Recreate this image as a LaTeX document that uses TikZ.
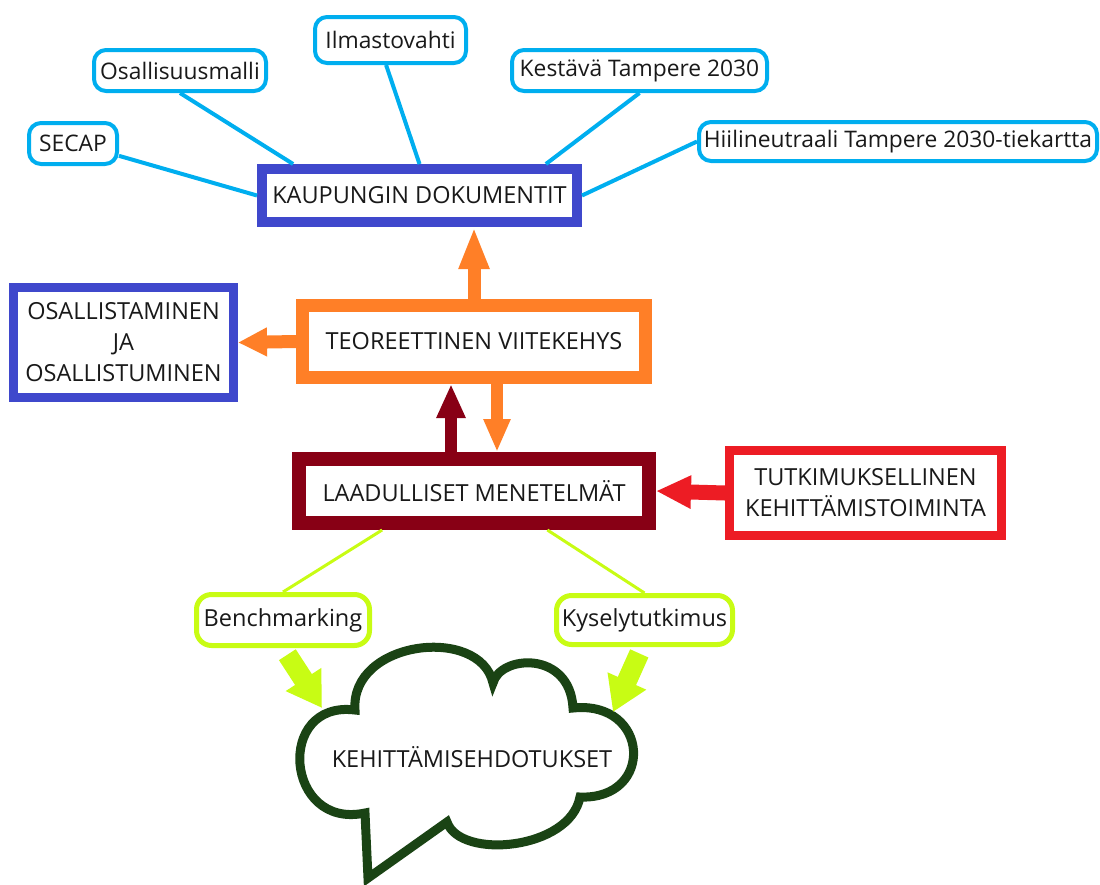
\documentclass[tikz,border=0pt]{standalone}
\usepackage{fontspec}
\setmainfont{Open Sans}
\usetikzlibrary{arrows.meta}

\begin{document}
\begin{tikzpicture}[x=1pt,y=-1pt]

  % Define the colours of the diagram
  \definecolor{docblue}{RGB}{0,174,239}
  \definecolor{boxblue}{RGB}{63,72,204}
  \definecolor{theoryorange}{RGB}{255,127,39}
  \definecolor{methodred}{RGB}{136,0,21}
  \definecolor{devred}{RGB}{237,28,36}
  \definecolor{toollime}{RGB}{200,252,20}
  \definecolor{cloudgreen}{RGB}{26,67,20}

  % Styles
  \tikzset{every node/.style={font=\fontsize{23.5}{31}\selectfont, align=center, inner sep=0pt, text=black!90}}
  \tikzset{
    docbox/.style={draw=docblue, line width=4pt, rounded corners=12pt, fill=white, font=\fontsize{22.8}{31}\selectfont},
    toolbox/.style={draw=toollime, line width=5pt, rounded corners=15pt, fill=white},
    mainbox/.style={draw=#1, fill=white},
    docline/.style={draw=docblue, line width=4pt},
    toolline/.style={draw=toollime, line width=3pt},
    fatarrow/.style n args={4}{draw=#1, line width=#2, -{Triangle[width=#3,length=#4]}}
  }

  \useasboundingbox (0,0) rectangle (1100,884);

  % City documents
  \node[mainbox=boxblue, line width=10pt, minimum width=315pt, minimum height=53pt] (kaup) at (419.5,195.5) {KAUPUNGIN DOKUMENTIT};
  \node[docbox, minimum width=88pt, minimum height=41pt] (secap) at (73,143.5) {SECAP};
  \node[docbox, minimum width=172pt, minimum height=41pt] (osal) at (180,70.5) {Osallisuusmalli};
  \node[docbox, minimum width=151pt, minimum height=46pt] (ilma) at (390.5,40) {Ilmastovahti};
  \node[docbox, minimum width=255pt, minimum height=41pt] (kest) at (639.5,70.5) {Kestävä Tampere 2030};
  \node[docbox, minimum width=398pt, minimum height=39pt] (hiil) at (898,141.5) {Hiilineutraali Tampere 2030-tiekartta};

  \draw[docline] (secap.-15) -- (kaup.west);
  \draw[docline] (osal.south) -- (kaup.166);
  \draw[docline] (ilma.-100) -- (kaup.north);
  \draw[docline] (kest.south) -- (kaup.14);
  \draw[docline] (hiil.west) -- (kaup.east);

  % Framework and methods
  \node[mainbox=theoryorange, line width=13pt, minimum width=343pt, minimum height=72pt] (teo) at (474,341.5) {TEOREETTINEN VIITEKEHYS};
  \node[mainbox=boxblue, line width=9pt, minimum width=220pt, minimum height=110pt] (osa) at (123.5,342.5) {OSALLISTAMINEN\\JA\\OSALLISTUMINEN};
  \node[mainbox=methodred, line width=14pt, minimum width=350pt, minimum height=64pt] (lab) at (474,491) {LAADULLISET MENETELMÄT};
  \node[mainbox=devred, line width=9pt, minimum width=272pt, minimum height=85pt] (tut) at (865.5,493) {TUTKIMUKSELLINEN\\KEHITTÄMISTOIMINTA};

  \draw[fatarrow={theoryorange}{13pt}{28pt}{42pt}] (teo.north) -- (teo.north |- kaup.south);
  \draw[fatarrow={theoryorange}{13pt}{27pt}{29pt}] (teo.west) -- (osa.east);
  \draw[fatarrow={theoryorange}{12pt}{25pt}{33pt}] ([xshift=23pt]teo.south) -- ([xshift=23pt]teo.south |- lab.north);
  \draw[fatarrow={methodred}{12pt}{27pt}{34pt}] ([xshift=-23pt]lab.north) -- ([xshift=-23pt]lab.north |- teo.south);
  \draw[fatarrow={devred}{15pt}{31pt}{35pt}] (tut.west) -- (lab.east);

  % Tools
  \node[toolbox, minimum width=173pt, minimum height=51pt] (bench) at (283,620) {Benchmarking};
  \node[toolbox, minimum width=176pt, minimum height=49pt] (kysely) at (644.5,620) {Kyselytutkimus};

  \draw[toolline] (lab.203) -- (bench.north);
  \draw[toolline] (lab.332) -- (kysely.north);

  % Cloud with the suggestions
  \draw[cloudgreen, line width=9pt] (365,813) .. controls (285,830) and (275,700) .. (355,710)
    .. controls (350,640) and (480,625) .. (493,683)
    .. controls (500,655) and (570,650) .. (573,708)
    .. controls (650,700) and (655,800) .. (580,797)
    .. controls (570,850) and (460,860) .. (447,822)
    -- (368,878) -- cycle;
  \node (sugg) at (472,757) {KEHITTÄMISEHDOTUKSET};
  \coordinate (cloudnw) at (322,708);
  \coordinate (cloudne) at (613,712);

  \draw[fatarrow={toollime}{20pt}{40pt}{34pt}, shorten <=8pt] (bench.south) -- (cloudnw);
  \draw[fatarrow={toollime}{20pt}{40pt}{34pt}, shorten <=7pt] (kysely.-95) -- (cloudne);

\end{tikzpicture}
\end{document}
